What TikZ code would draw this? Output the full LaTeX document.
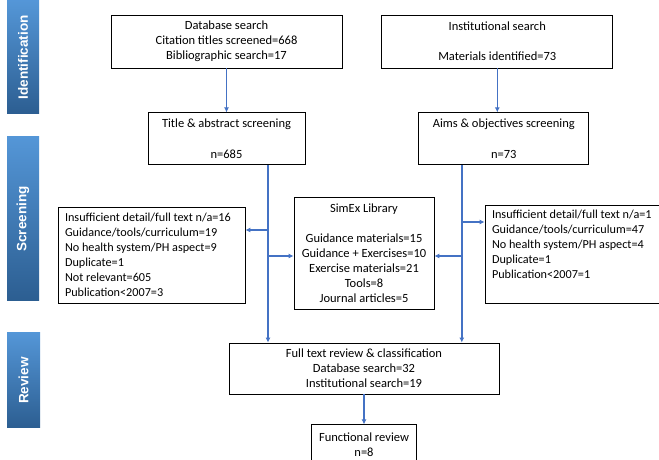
\documentclass[tikz,border=0pt]{standalone}
\usepackage{fontspec}
\setmainfont{Carlito}
\newfontfamily\phasefont{Liberation Sans}
\usetikzlibrary{graphs, positioning, arrows.meta}
\definecolor{flowblue}{RGB}{68,114,196}
\definecolor{phaselight}{RGB}{84,150,215}
\definecolor{phasedark}{RGB}{44,94,145}

\begin{document}
\begin{tikzpicture}[x=1pt, y=1pt, node distance=10pt,
		>={Latex[length=5pt,width=5pt]},
		box/.style={draw, line width=0.8pt, align=center, inner sep=2pt, font=\fontsize{12.5}{15}\selectfont},
		listbox/.style={box, align=flush left, inner xsep=7pt, text width=173pt, font=\fontsize{12.2}{15}\selectfont},
		phase/.style={rotate=90, top color=phaselight, bottom color=phasedark, text=white, font=\phasefont\bfseries\fontsize{13.5}{16}\selectfont, inner sep=0pt},
		flow/.style={->, flowblue, line width=1.6pt}]
		\useasboundingbox (0,0) rectangle (659,460);
		
		% phases
		\node[phase, minimum width=113pt, minimum height=32pt] (ident)  at (23,402.5) {Identification};
		\node[phase, minimum width=164pt, minimum height=32pt] (screen) at (23,241)   {Screening};
		\node[phase, minimum width=95pt,  minimum height=33pt] (review) at (23.5,79.5) {Review};
		
		% searches
		\node[box, minimum width=231pt, minimum height=53pt]                   (db)    at (226.5,418.5) {Database search\\ Citation titles screened=668\\ Bibliographic search=17};
		\node[box, minimum width=231pt, minimum height=53pt, right=39pt of db]  (inst)  {Institutional search\\[15pt] Materials identified=73};
		\node[box, minimum width=157pt, minimum height=52pt, below=44pt of db]  (title) {Title \& abstract screening\\[16pt] n=685};
		\node[box, minimum width=170pt, minimum height=52pt, below=44pt of inst, xshift=6.5pt] (aims) {Aims \& objectives screening\\[16pt] n=73};
		
		% screening results
		\node[listbox, minimum height=96pt] (exclL) at (151.5,205) {Insufficient detail/full text n/a=16\\ Guidance/tools/curriculum=19\\ No health system/PH aspect=9\\ Duplicate=1\\ Not relevant=605\\ Publication<2007=3};
		\node[box, minimum width=140pt, minimum height=112pt] (simex) at (364,207) {SimEx Library\\[15pt] Guidance materials=15\\ Guidance + Exercises=10\\ Exercise materials=21\\ Tools=8\\ Journal articles=5};
		\node[listbox, minimum height=98pt] (exclR) at (578.5,206) {Insufficient detail/full text n/a=1\\ Guidance/tools/curriculum=47\\ No health system/PH aspect=4\\ Duplicate=1\\ Publication<2007=1\\ \strut};
		
		% review
		\node[box, minimum width=270pt, minimum height=51pt]                      (full) at (364,91.5) {Full text review \& classification\\ Database search=32\\ Institutional search=19};
		\node[box, minimum width=105pt, minimum height=39pt, below=30pt of full]  (func) {Functional review\\ n=8};
		
		\graph{
			(db) ->[flow] (title);
			(full) ->[flow] (func);
		};
		
		\coordinate (trunkL) at ([xshift=41.5pt]title.south);
		\coordinate (trunkR) at ([xshift=-42pt]aims.south);
		\coordinate (toL) at ([yshift=25pt]exclL.east);
		\coordinate (toR) at ([yshift=32pt]exclR.west);
		\coordinate (toS) at ([yshift=-3pt]simex.west);
		
		\draw[flow] (inst.south) -- (inst.south |- aims.north);
		\draw[flow] (trunkL) -- (trunkL |- full.north);
		\draw[flow] (trunkR) -- (trunkR |- full.north);
		\draw[flow] (toL -| trunkL) -- (toL);
		\draw[flow] (toS -| trunkL) -- (toS);
		\draw[flow] (toR -| trunkR) -- (toR);
		\draw[flow] (toS -| trunkR) -- (simex.east |- toS);
	\end{tikzpicture}
\end{document}
